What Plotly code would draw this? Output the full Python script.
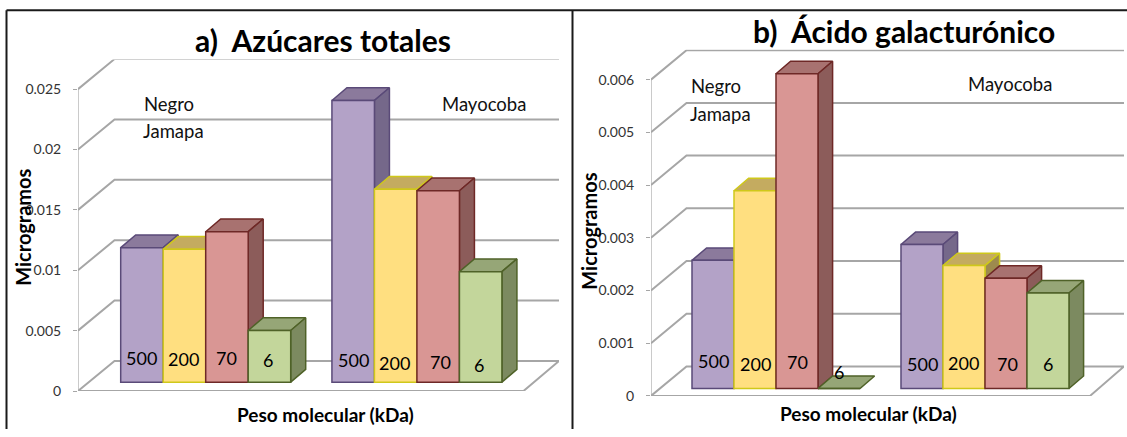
import plotly.graph_objects as go

W, H = 1127, 437

# Series values in micrograms, by molecular weight fraction
categories = ["500", "200", "70", "6"]
azucares_negro = [0.01114, 0.0110, 0.01246, 0.00428]
azucares_mayocoba = [0.02333, 0.01598, 0.01585, 0.00915]
acido_negro = [0.00243, 0.00375, 0.00597, 0.0]
acido_mayocoba = [0.00273, 0.00233, 0.00209, 0.00181]
azucares_ticks = [0, 0.005, 0.01, 0.015, 0.02, 0.025]
azucares_ticktext = ["0", "0.005", "0.01", "0.015", "0.02", "0.025"]
acido_ticks = [0, 0.001, 0.002, 0.003, 0.004, 0.005, 0.006]
acido_ticktext = ["0", "0.001", "0.002", "0.003", "0.004", "0.005", "0.006"]

FONT = "Lato"
GRID = "#a6a6a6"

# front, top, side, outline for each fraction
PALETTE = [
    ("#b3a2c7", "#8b7a9c", "#75688a", "#5a4a78"),
    ("#ffdf80", "#c4ab60", "#9d8a4e", "#cfc81a"),
    ("#d99694", "#a87270", "#8c5c5a", "#6e2826"),
    ("#c3d69b", "#96a677", "#7c8a60", "#4f6228"),
]

PANELS = [
    dict(xa="x", ya="y", left=78, right=559, y0=398.3, ytop=60.7, bar0=120.7, barw=42.5,
         px_per=61.5 / 0.005, wall=(36.5, 30.6), lift=9.0, depth=(15.0, 13.0), gap=4.97,
         floor_right=523.5, ticks=azucares_ticks, ticktext=azucares_ticktext,
         groups=[azucares_negro, azucares_mayocoba]),
    dict(xa="x2", ya="y2", left=651, right=1124, y0=403.3, ytop=50.7, bar0=692.0, barw=42.0,
         px_per=53.7 / 0.001, wall=(35.5, 30.0), lift=7.6, depth=(14.6, 12.7), gap=4.976,
         floor_right=1090, ticks=acido_ticks, ticktext=acido_ticktext,
         groups=[acido_negro, acido_mayocoba]),
]

fig = go.Figure()


def polygon(p, xs, ys, fill, line, z):
    fig.add_trace(go.Scatter(
        x=xs, y=ys, xaxis=p["xa"], yaxis=p["ya"], mode="lines", fill="toself",
        fillcolor=fill, line=dict(color=line, width=1.5), hoverinfo="skip",
        showlegend=False, zorder=z))


def polyline(p, xs, ys, width):
    fig.add_trace(go.Scatter(
        x=xs, y=ys, xaxis=p["xa"], yaxis=p["ya"], mode="lines",
        line=dict(color=GRID, width=width), hoverinfo="skip", showlegend=False, zorder=0))


for p in PANELS:
    to_u = lambda px: (px - p["bar0"]) / p["barw"]
    xl, xr = to_u(p["left"]), to_u(p["right"])
    wall_dx, wall_dy = p["wall"][0] / p["barw"], p["wall"][1] / p["px_per"]
    dep_dx, dep_dy = p["depth"][0] / p["barw"], p["depth"][1] / p["px_per"]
    base = p["lift"] / p["px_per"]
    p["xrange"] = [xl, xr]
    p["yrange"] = [0, (p["y0"] - p["ytop"]) / p["px_per"]]

    # Side wall and back wall gridlines
    for t in p["ticks"][1:]:
        polyline(p, [xl, xl + wall_dx, xr], [t, t + wall_dy, t + wall_dy], 2)
    polyline(p, [xl, xl], [0, p["ticks"][-1]], 1.2)

    # Floor outline
    xf = to_u(p["floor_right"])
    polyline(p, [xl, xl + wall_dx, xr, xf, xl], [0, wall_dy, wall_dy, 0, 0], 2)

    # Boxes painted left to right so each one hides its neighbour's side face
    z = 1
    for g, values in enumerate(p["groups"]):
        for i, v in enumerate(values):
            front, top, side, edge = PALETTE[i]
            a = g * p["gap"] + i
            b = a + 1
            polygon(p, [a, a + dep_dx, b + dep_dx, b, a],
                    [base + v, base + v + dep_dy, base + v + dep_dy, base + v, base + v],
                    top, edge, z)
            if v > 0:
                polygon(p, [b, b + dep_dx, b + dep_dx, b, b],
                        [base, base + dep_dy, base + v + dep_dy, base + v, base],
                        side, edge, z + 1)
            fig.add_trace(go.Bar(
                x=[a + 0.5], y=[v], base=[base], width=[1], xaxis=p["xa"], yaxis=p["ya"],
                marker=dict(color=front, line=dict(color=edge, width=1.5)),
                name=categories[i], showlegend=False, hoverinfo="skip", zorder=z + 2))
            z += 3


def paper_text(x, y, text, size, bold=False, color="#000000", angle=0, xanchor="center"):
    fig.add_annotation(
        x=x / W, y=1 - y / H, xref="paper", yref="paper", text=f"<b>{text}</b>" if bold else text,
        showarrow=False, xanchor=xanchor, yanchor="middle", textangle=angle,
        font=dict(family=FONT, size=size, color=color))


# Titles and axis titles
paper_text(323, 41, "a)  Azúcares totales", 30, bold=True)
paper_text(904, 32, "b)  Ácido galacturónico", 30, bold=True)
paper_text(23, 232, "Microgramos", 20, bold=True, angle=-90)
paper_text(589, 236, "Microgramos", 20, bold=True, angle=-90)
paper_text(325, 422, "Peso molecular (kDa)", 19, bold=True)
paper_text(869, 421, "Peso molecular (kDa)", 19, bold=True)

# Variety names
paper_text(142, 106, "Negro", 18.5, color="#111111", xanchor="left")
paper_text(141, 133, "Jamapa", 18.5, color="#111111", xanchor="left")
paper_text(484, 106, "Mayocoba", 18.5, color="#111111")
paper_text(689, 88, "Negro", 18.5, color="#111111", xanchor="left")
paper_text(688, 116, "Jamapa", 18.5, color="#111111", xanchor="left")
paper_text(1010, 86, "Mayocoba", 18.5, color="#111111")

# Fraction labels on the bars
label_spots = [
    (141, 365), (183.6, 366), (226, 365), (268, 367),
    (353, 367), (394, 370), (440, 369), (479, 372),
    (713, 368), (755, 371), (797, 369), (839, 379),
    (922, 371), (963.6, 370), (1007, 371), (1048, 371),
]
for k, (lx, ly) in enumerate(label_spots):
    paper_text(lx, ly, categories[k % 4], 18)

a, b = PANELS


def xaxis_style(p):
    return dict(domain=[p["left"] / W, p["right"] / W], range=p["xrange"], visible=False, fixedrange=True)


def yaxis_style(p, anchor):
    return dict(domain=[1 - p["y0"] / H, 1 - p["ytop"] / H], range=p["yrange"], anchor=anchor,
                tickmode="array", tickvals=p["ticks"], ticktext=p["ticktext"],
                ticks="outside", ticklen=4, tickcolor=GRID, tickwidth=1,
                tickfont=dict(family=FONT, size=14, color="#333333"),
                showgrid=False, zeroline=False, showline=False, ticklabelstandoff=9)


# Panel frame: left edge, top edge and the divider between the two charts
frame = [(6.5, 437, 6.5, 10.5), (6.5, 10.5, 1127, 10.5), (572.5, 10.5, 572.5, 437)]
shapes = [dict(type="line", xref="paper", yref="paper", x0=x0 / W, x1=x1 / W,
               y0=1 - y0 / H, y1=1 - y1 / H, line=dict(color="#1a1a1a", width=2))
          for x0, y0, x1, y1 in frame]

fig.update_layout(
    width=W, height=H, margin=dict(l=0, r=0, t=0, b=0), autosize=False,
    paper_bgcolor="white", plot_bgcolor="rgba(0,0,0,0)", barmode="overlay", showlegend=False,
    xaxis=xaxis_style(a), yaxis=yaxis_style(a, "x"),
    xaxis2=xaxis_style(b), yaxis2=yaxis_style(b, "x2"),
    shapes=shapes,
)

fig.write_html("out.html")
